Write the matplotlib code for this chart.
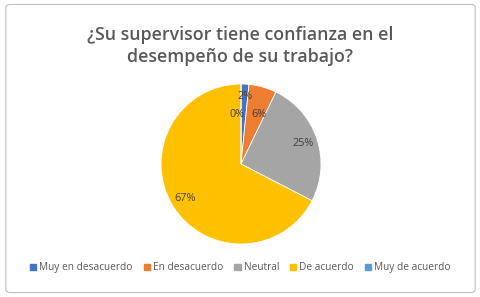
import matplotlib.pyplot as plt
from matplotlib.patches import FancyBboxPatch

categories = ["Muy en desacuerdo", "En desacuerdo", "Neutral", "De acuerdo", "Muy de acuerdo"]
values = [1.6, 5.6, 25.4, 67.4, 0]
colors = ["#4472C4", "#ED7D31", "#A5A5A5", "#FFC000", "#5B9BD5"]

plt.rcParams['font.family'] = ['Open Sans', 'DejaVu Sans']

fig = plt.figure(figsize=(4.81, 2.97), dpi=100)
ax = fig.add_axes([(241 - 80) / 481, 1 - (164 + 80) / 297, 160 / 481, 160 / 297])

wedges, texts, autotexts = ax.pie(
    values, colors=colors, startangle=90, counterclock=False,
    autopct=lambda p: f"{p:.0f}%", pctdistance=0.82,
    wedgeprops=dict(edgecolor="white", linewidth=0.6),
    textprops=dict(color="#404040", fontsize=7.8))
ax.set_aspect('equal')
ax.set_xlim(-1, 1)
ax.set_ylim(-1, 1)

# small slices: Excel pushes labels apart
autotexts[0].set_position((0.05, 0.84))
autotexts[1].set_position((0.22, 0.62))
autotexts[4].set_position((-0.05, 0.62))

fig.text(0.5, 0.845, "¿Su supervisor tiene confianza en el\ndesempeño de su trabajo?",
         ha="center", va="center", fontsize=12.8, color="#595959",
         fontweight="semibold", linespacing=1.35)

handles = [plt.Rectangle((0, 0), 1, 1, color=c) for c in colors]
fig.legend(handles, categories, loc="center", bbox_to_anchor=(0.5, 0.098), ncol=5,
           frameon=False, fontsize=7.3, handlelength=0.6, handleheight=0.6,
           handletextpad=0.3, columnspacing=1.1, labelcolor="#595959")

fig.patches.append(FancyBboxPatch((0.012, 0.015), 0.976, 0.97, boxstyle="round,pad=0,rounding_size=0.01",
                                  transform=fig.transFigure, fill=False,
                                  edgecolor="#BFBFBF", linewidth=0.8))

fig.savefig("out.png", dpi=100)
